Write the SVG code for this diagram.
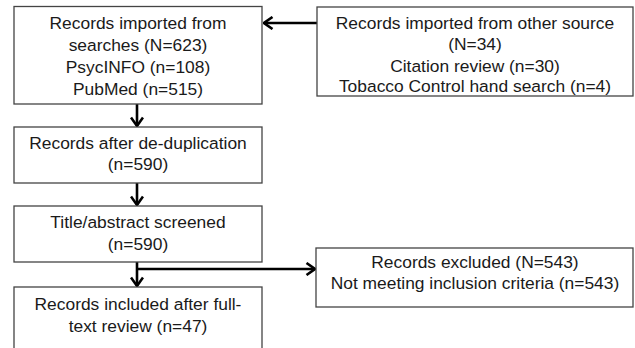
<svg xmlns="http://www.w3.org/2000/svg" width="635" height="348" viewBox="0 0 635 348">
<defs>
<marker id="arr" viewBox="0 0 12 14" refX="10.5" refY="7" markerWidth="12" markerHeight="14" markerUnits="userSpaceOnUse" orient="auto">
<polyline points="2,1 10.5,7 2,13" fill="none" stroke="#000" stroke-width="2.6"/>
</marker>
</defs>
<style>
rect.box{fill:#fff;stroke:#444;stroke-width:1.3}
text{font-family:"Liberation Sans",Arial,sans-serif;font-size:17.4px;fill:#1a1a1a;text-anchor:middle}
.conn{fill:none;stroke:#000;stroke-width:2.6}
</style>
<rect width="635" height="348" fill="#fff"/>
<g id="connectors">
<line class="conn" x1="317" y1="23" x2="264" y2="23" marker-end="url(#arr)"/>
<line class="conn" x1="137" y1="104" x2="137" y2="126" marker-end="url(#arr)"/>
<line class="conn" x1="137" y1="183" x2="137" y2="205" marker-end="url(#arr)"/>
<line class="conn" x1="137" y1="262" x2="137" y2="286" marker-end="url(#arr)"/>
<line class="conn" x1="136" y1="269" x2="315" y2="269" marker-end="url(#arr)"/>
</g>
<g id="searches">
<rect class="box" x="14" y="6.5" width="248" height="97.5"/>
<text x="138" y="29">Records imported from</text>
<text x="138" y="51">searches (N=623)</text>
<text x="138" y="73">PsycINFO (n=108)</text>
<text x="138" y="95">PubMed (n=515)</text>
</g>
<g id="other">
<rect class="box" x="317" y="7" width="316" height="89"/>
<text x="475" y="29">Records imported from other source</text>
<text x="475" y="50">(N=34)</text>
<text x="475" y="71.5">Citation review (n=30)</text>
<text x="475" y="92">Tobacco Control hand search (n=4)</text>
</g>
<g id="dedup">
<rect class="box" x="14" y="127" width="248" height="56"/>
<text x="138" y="148.5">Records after de-duplication</text>
<text x="138" y="170">(n=590)</text>
</g>
<g id="screened">
<rect class="box" x="14" y="206" width="248" height="56"/>
<text x="138" y="228">Title/abstract screened</text>
<text x="138" y="250">(n=590)</text>
</g>
<g id="excluded">
<rect class="box" x="316" y="248" width="317" height="59"/>
<text x="475" y="268">Records excluded (N=543)</text>
<text x="475" y="289">Not meeting inclusion criteria (n=543)</text>
</g>
<g id="included">
<rect class="box" x="14" y="287" width="248" height="70"/>
<text x="138" y="310">Records included after full-</text>
<text x="138" y="332">text review (n=47)</text>
</g>
</svg>
